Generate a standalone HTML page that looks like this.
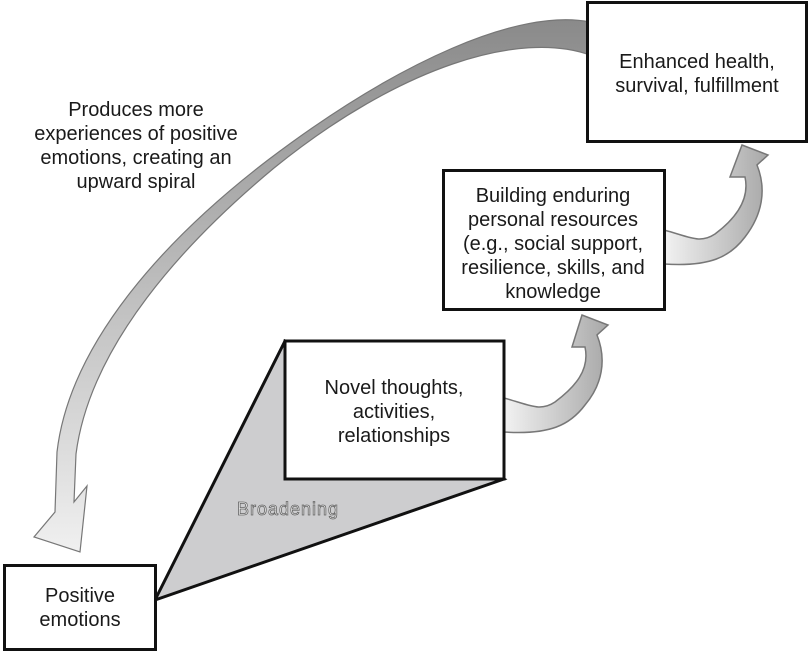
<!DOCTYPE html>
<html><head><style>
body{margin:0;width:810px;height:653px;background:#fff;overflow:hidden}
svg{display:block}
text{font-family:"Liberation Sans",Arial,sans-serif;font-size:20px;fill:#1a1a1a}
</style></head><body>
<svg width="810" height="653" viewBox="0 0 810 653">
<defs>
<linearGradient id="g" x1="0" y1="0" x2="1" y2="0">
<stop offset="0" stop-color="#f2f2f2"/><stop offset="1" stop-color="#a8a8a8"/>
</linearGradient>
<linearGradient id="g2" x1="0" y1="0" x2="0" y2="1">
<stop offset="0" stop-color="#8a8a8a"/><stop offset="1" stop-color="#f0f0f0"/>
</linearGradient>
</defs>
<polygon points="155,600 285,341 504,479" fill="#cdcdcf" stroke="#111" stroke-width="3"/>
<text x="288" y="515" text-anchor="middle" style="font-size:18px;fill:#eee;stroke:#666;stroke-width:0.8;letter-spacing:1px">Broadening</text>
<path d="M590,22 C520,8 400,60 268,160 C170,235 70,340 57,452 L55,512 L34,537 L80,552 L87,486 L74,502 L76,454 C90,345 185,242 274,168 C400,66 520,30 590,55 Z" fill="url(#g2)" stroke="#777" stroke-width="1.2"/>
<path d="M504,398 C530,405 540,412 555,402 C575,387 590,370 585,347 L572,347 L582,315 L608,325 L597,335 C607,360 602,385 585,405 C570,425 550,435 504,432 Z" fill="url(#g)" stroke="#777" stroke-width="1.5"/>
<path d="M664,230 C690,237 700,244 715,234 C735,219 750,200 745,177 L730,177 L742,145 L768,155 L757,165 C767,190 762,215 745,237 C730,257 710,267 664,264 Z" fill="url(#g)" stroke="#777" stroke-width="1.5"/>
<rect x="587.5" y="2.5" width="219" height="139" fill="#fff" stroke="#111" stroke-width="3"/>
<rect x="443.5" y="170.5" width="221" height="139" fill="#fff" stroke="#111" stroke-width="3"/>
<rect x="285" y="341" width="219" height="138" fill="#fff" stroke="#111" stroke-width="3"/>
<rect x="4.5" y="565.5" width="151" height="84" fill="#fff" stroke="#111" stroke-width="3"/>
<text text-anchor="middle"><tspan x="697" y="68">Enhanced health,</tspan><tspan x="697" y="92">survival, fulfillment</tspan></text>
<text text-anchor="middle"><tspan x="553" y="202">Building enduring</tspan><tspan x="553" y="226">personal resources</tspan><tspan x="553" y="250">(e.g., social support,</tspan><tspan x="553" y="274">resilience, skills, and</tspan><tspan x="553" y="298">knowledge</tspan></text>
<text text-anchor="middle"><tspan x="394" y="394">Novel thoughts,</tspan><tspan x="394" y="418">activities,</tspan><tspan x="394" y="442">relationships</tspan></text>
<text text-anchor="middle"><tspan x="80" y="602">Positive</tspan><tspan x="80" y="626">emotions</tspan></text>
<text text-anchor="middle"><tspan x="136" y="116">Produces more</tspan><tspan x="136" y="140">experiences of positive</tspan><tspan x="136" y="164">emotions, creating an</tspan><tspan x="136" y="188">upward spiral</tspan></text>
</svg>
</body></html>
